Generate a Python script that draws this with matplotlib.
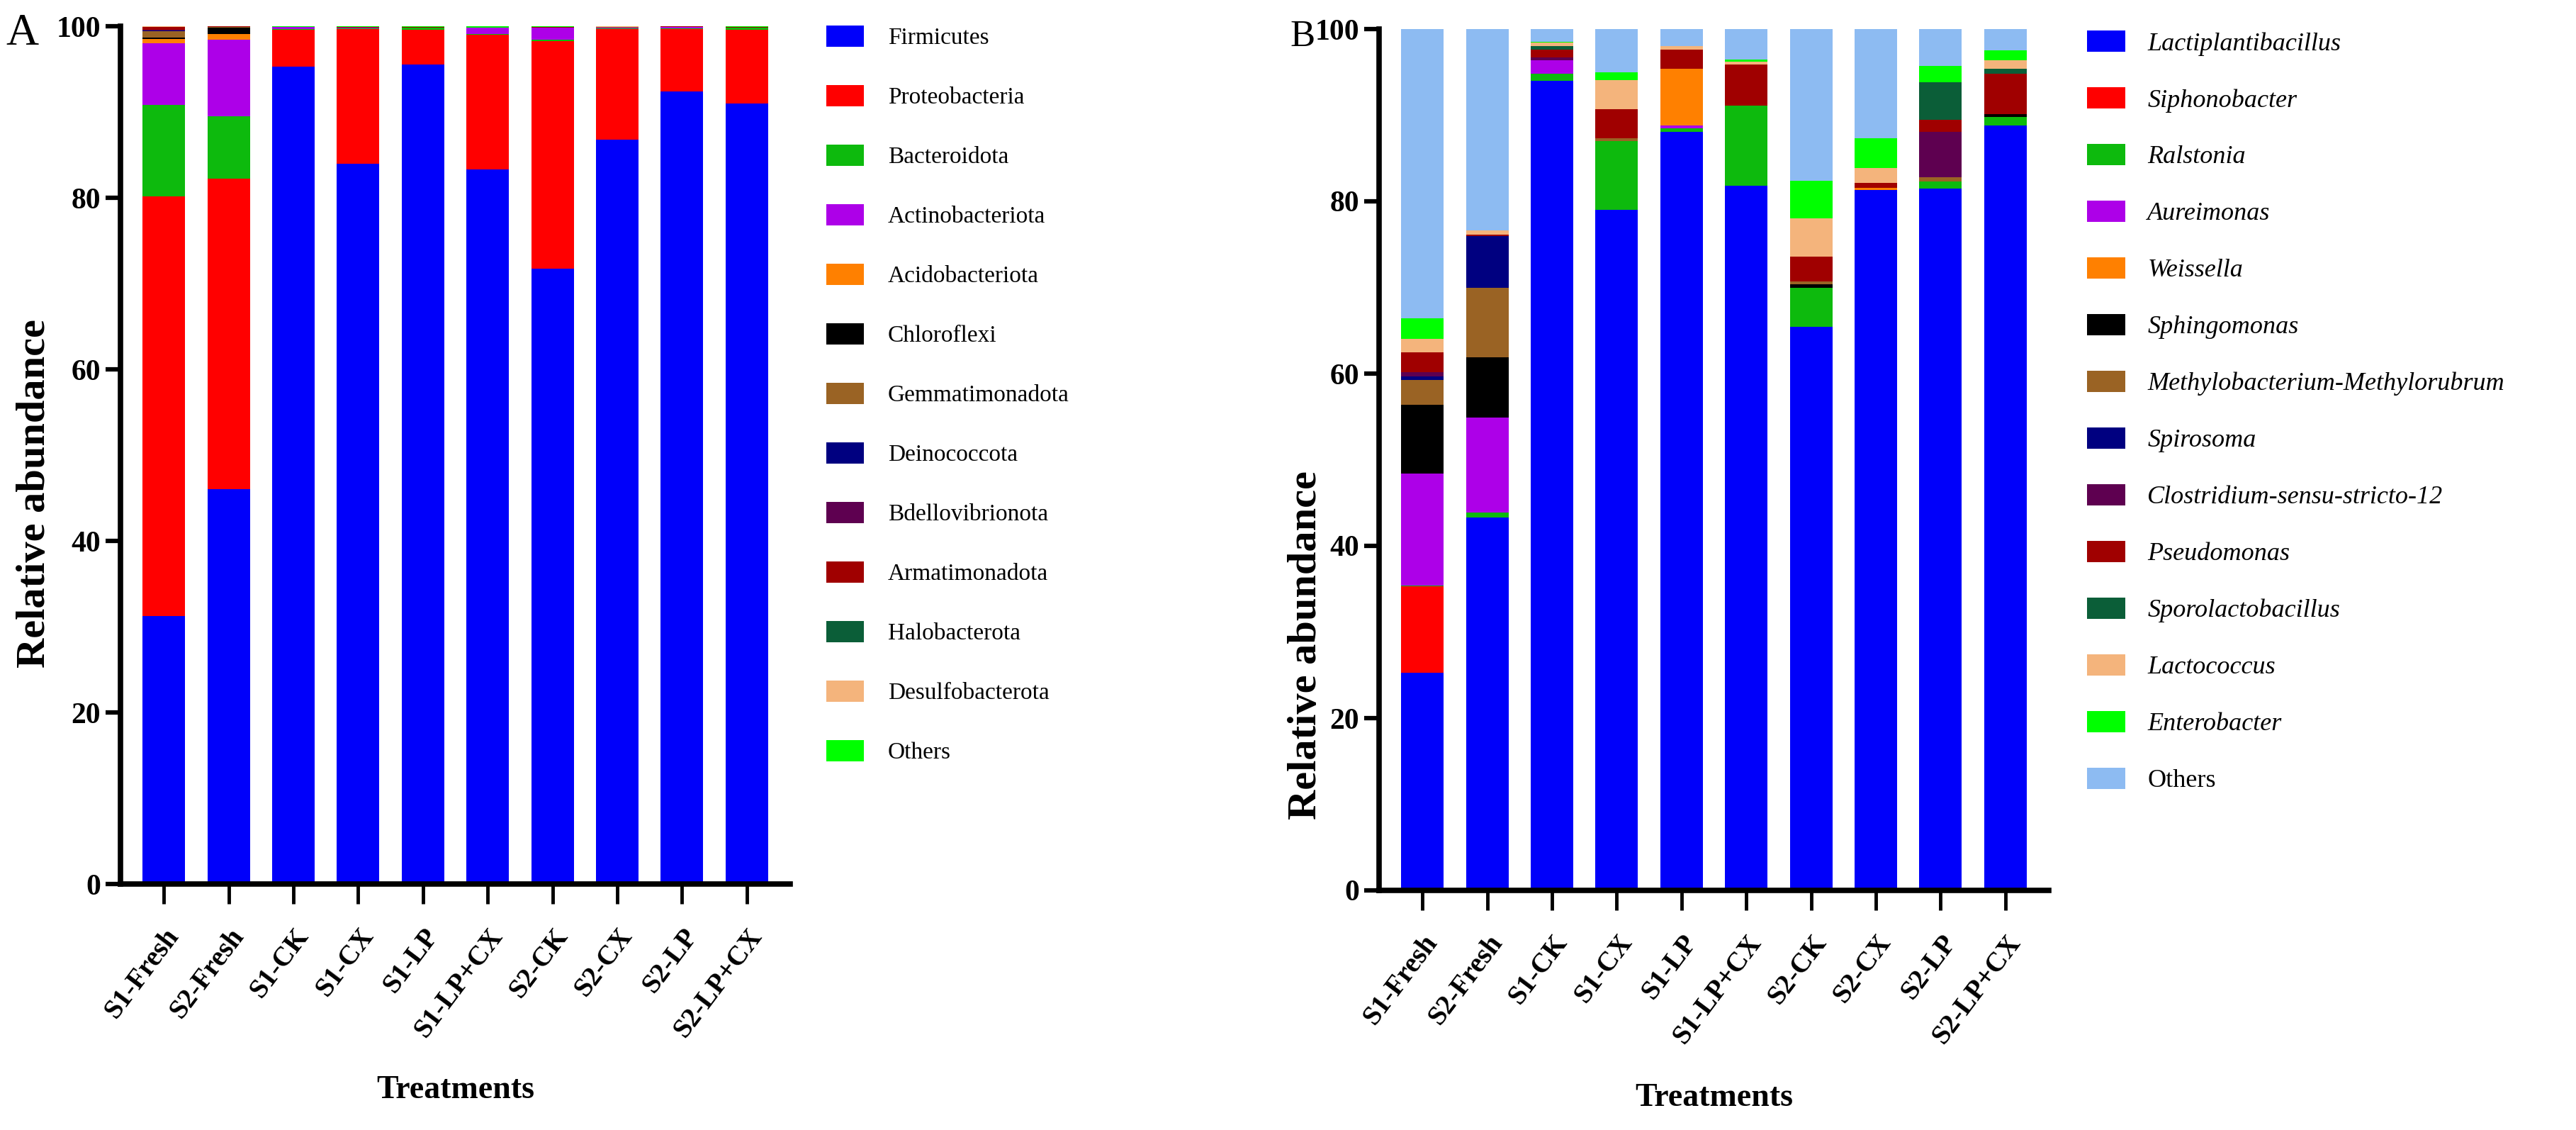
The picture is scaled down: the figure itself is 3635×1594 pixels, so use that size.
import numpy as np
import matplotlib
matplotlib.use("Agg")
import matplotlib.pyplot as plt
from matplotlib.patches import Patch

plt.rcParams["font.family"] = ["Liberation Serif", "DejaVu Serif"]

treatments = ["S1-Fresh", "S2-Fresh", "S1-CK", "S1-CX", "S1-LP", "S1-LP+CX",
              "S2-CK", "S2-CX", "S2-LP", "S2-LP+CX"]

# panel A: phylum level (%)
phyla = ["Firmicutes", "Proteobacteria", "Bacteroidota", "Actinobacteriota",
         "Acidobacteriota", "Chloroflexi", "Gemmatimonadota", "Deinococcota",
         "Bdellovibrionota", "Armatimonadota", "Halobacterota",
         "Desulfobacterota", "Others"]
firmicutes = [31.2, 46.0, 95.3, 84.0, 95.5, 83.3, 71.7, 86.8, 92.4, 91.0]
proteobacteria = [49.0, 36.2, 4.3, 15.7, 4.1, 15.7, 26.6, 12.9, 7.3, 8.6]
bacteroidota = [10.6, 7.3, 0.1, 0.05, 0.2, 0.1, 0.1, 0.05, 0.05, 0.2]
actinobacteriota = [7.2, 8.9, 0.2, 0.1, 0.05, 0.7, 1.4, 0.05, 0.2, 0.05]
acidobacteriota = [0.5, 0.7, 0, 0, 0, 0, 0, 0, 0, 0]
chloroflexi = [0.2, 0.7, 0, 0, 0, 0, 0, 0, 0, 0]
gemmatimonadota = [0.7, 0.1, 0, 0, 0, 0, 0, 0.1, 0, 0]
deinococcota = [0.1, 0.05, 0, 0, 0, 0, 0, 0, 0, 0]
bdellovibrionota = [0.1, 0, 0, 0, 0, 0, 0, 0, 0, 0]
armatimonadota = [0.3, 0.05, 0.05, 0.1, 0.05, 0.05, 0.1, 0.05, 0.05, 0.05]
halobacterota = [0.05, 0, 0, 0, 0, 0, 0, 0, 0, 0]
desulfobacterota = [0.1, 0, 0, 0, 0, 0, 0, 0.1, 0, 0]
others_a = [0.05, 0.05, 0.05, 0.05, 0.1, 0.15, 0.1, 0.0, 0.0, 0.1]
values_a = [firmicutes, proteobacteria, bacteroidota, actinobacteriota,
            acidobacteriota, chloroflexi, gemmatimonadota, deinococcota,
            bdellovibrionota, armatimonadota, halobacterota,
            desulfobacterota, others_a]

# panel B: genus level (%)
genera = ["Lactiplantibacillus", "Siphonobacter", "Ralstonia", "Aureimonas",
          "Weissella", "Sphingomonas", "Methylobacterium-Methylorubrum",
          "Spirosoma", "Clostridium-sensu-stricto-12", "Pseudomonas",
          "Sporolactobacillus", "Lactococcus", "Enterobacter", "Others"]
lactiplantibacillus = [25.3, 43.3, 94.0, 79.0, 88.1, 81.8, 65.4, 81.3, 81.5, 88.8]
siphonobacter = [10.0, 0, 0, 0, 0, 0, 0, 0, 0, 0]
ralstonia = [0.1, 0.6, 0.8, 8.0, 0.4, 9.3, 4.6, 0, 0.8, 1.0]
aureimonas = [13.0, 11.0, 1.6, 0, 0.3, 0, 0, 0, 0, 0]
weissella = [0, 0, 0, 0, 6.6, 0, 0, 0.3, 0, 0]
sphingomonas = [8.0, 7.0, 0, 0, 0, 0, 0.4, 0, 0, 0.3]
methylobacterium = [2.9, 8.1, 0, 0.3, 0, 0, 0.3, 0, 0.5, 0]
spirosoma = [0.4, 6.0, 0, 0, 0, 0, 0, 0, 0, 0]
clostridium = [0.5, 0, 0.3, 0, 0, 0, 0, 0, 5.3, 0]
pseudomonas = [2.3, 0.1, 0.9, 3.4, 2.2, 4.8, 2.9, 0.5, 1.4, 4.7]
sporolactobacillus = [0, 0, 0.4, 0, 0, 0, 0, 0, 4.3, 0.6]
lactococcus = [1.5, 0.5, 0.4, 3.4, 0.4, 0.3, 4.4, 1.8, 0, 1.0]
enterobacter = [2.4, 0, 0.1, 0.9, 0, 0.3, 4.4, 3.4, 1.9, 1.1]
others_b = [33.6, 23.4, 1.5, 5.0, 2.0, 3.5, 17.6, 12.7, 4.3, 2.5]
values_b = [lactiplantibacillus, siphonobacter, ralstonia, aureimonas,
            weissella, sphingomonas, methylobacterium, spirosoma, clostridium,
            pseudomonas, sporolactobacillus, lactococcus, enterobacter, others_b]

colors_a = ["#0000FA", "#FF0000", "#0DBA0D", "#AD00E8", "#FF8000", "#000000",
            "#9A6324", "#000080", "#5E0050", "#A00000", "#0B5E38", "#F4B47C",
            "#00FF00"]
colors_b = colors_a[:-1] + ["#00FF00", "#8DBBF2"]


def stacked(ax, series, colors):
    x = np.arange(len(treatments))
    bottom = np.zeros(len(treatments))
    for vals, col in zip(series, colors):
        v = np.array(vals, dtype=float)
        ax.bar(x, v, bottom=bottom, width=0.655, color=col, linewidth=0)
        bottom += v

    ax.set_xlim(-0.67, len(treatments) - 0.33)
    ax.set_ylim(0, 100)
    ax.set_yticks([0, 20, 40, 60, 80, 100])
    ax.set_xticks(x)
    ax.set_xticklabels(treatments, rotation=53, ha="right",
                       rotation_mode="anchor", fontsize=28, fontweight="bold")
    for lab in ax.get_yticklabels():
        lab.set_fontsize(30)
        lab.set_fontweight("bold")
    for s in ("top", "right"):
        ax.spines[s].set_visible(False)
    for s in ("left", "bottom"):
        ax.spines[s].set_linewidth(5.5)
    ax.tick_params(axis="y", length=15, width=4.5, pad=5)
    ax.tick_params(axis="x", length=20, width=3.5, pad=20)
    ax.set_xlabel("Treatments", fontsize=33, fontweight="bold")
    ax.set_ylabel("Relative abundance", fontsize=42, fontweight="bold")


fig = plt.figure(figsize=(36.35, 15.94), dpi=100)
W, H = 3635, 1594

ax_a = fig.add_axes([170 / W, 1 - 1247 / H, 945 / W, 1210 / H])
stacked(ax_a, values_a, colors_a)
ax_a.yaxis.set_label_coords(-0.100, 0.455)
ax_a.xaxis.set_label_coords(0.5, -0.223)

ax_b = fig.add_axes([1946 / W, 1 - 1256 / H, 945 / W, 1215 / H])
stacked(ax_b, values_b, colors_b)
ax_b.yaxis.set_label_coords(-0.082, 0.285)
ax_b.xaxis.set_label_coords(0.5, -0.224)

handles_a = [Patch(facecolor=c, label=n) for n, c in zip(phyla, colors_a)]
fig.legend(handles=handles_a, loc="upper left",
           bbox_to_anchor=(1166 / W, 1 - 36 / H), frameon=False,
           fontsize=24, handlelength=1.6, handleheight=1.0,
           handletextpad=1.0, labelspacing=1.52, borderpad=0, borderaxespad=0)

handles_b = [Patch(facecolor=c, label=n) for n, c in zip(genera, colors_b)]
leg_b = fig.legend(handles=handles_b, loc="upper left",
                   bbox_to_anchor=(2945 / W, 1 - 43 / H), frameon=False,
                   prop={"size": 26, "style": "italic"}, handlelength=1.5,
                   handleheight=0.91, handletextpad=0.86, labelspacing=1.23,
                   borderpad=0, borderaxespad=0)
leg_b.get_texts()[-1].set_fontstyle("normal")

fig.text(8 / W, 1 - 63 / H, "A", fontsize=46, va="baseline", ha="left")
fig.text(1820 / W, 1 - 65 / H, "B", fontsize=38, va="baseline", ha="left")

fig.savefig("out.png", dpi=100)
